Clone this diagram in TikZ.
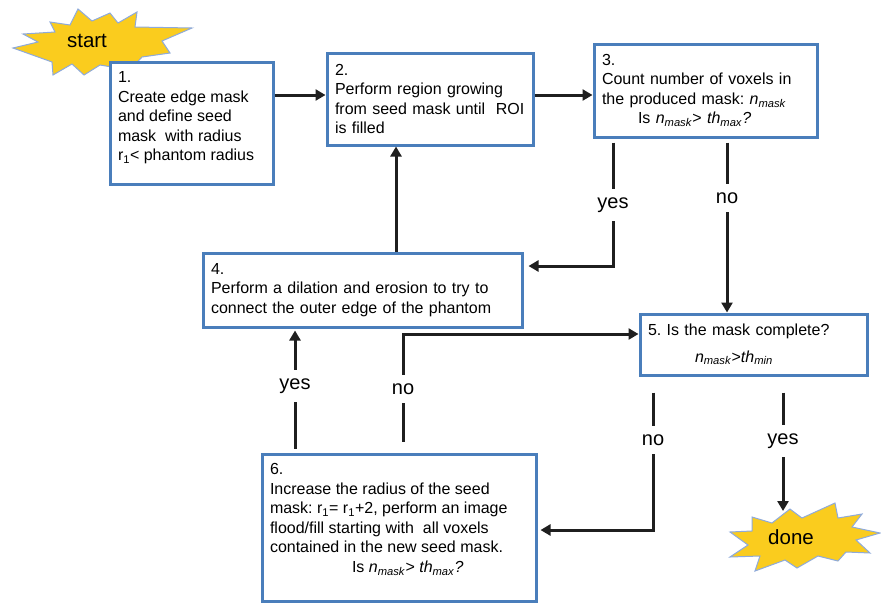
\documentclass[tikz,border=0pt]{standalone}
\usepackage{fontspec}
\setmainfont{Liberation Sans}
\usetikzlibrary{arrows.meta}
\definecolor{boxblue}{HTML}{4A7EBB}
\definecolor{arrowgray}{HTML}{1F1F1F}
\definecolor{staryellow}{HTML}{FACC1E}
\definecolor{starline}{HTML}{8EAADB}
\newcommand{\Nmask}{\textit{n}\textsubscript{\textit{mask}}}
\newcommand{\ThMax}{\textit{th}\textsubscript{\textit{max}}}
\newcommand{\ThMin}{\textit{th}\textsubscript{\textit{min}}}
\frenchspacing
\begin{document}
\begin{tikzpicture}[x=1pt,y=-1pt,
  box/.style={draw=boxblue, line width=3pt, fill=white, rectangle, inner xsep=8pt, inner ysep=4pt, font=\fontsize{16}{19.5}\selectfont\frenchspacing},
  arr/.style={draw=arrowgray, line width=3pt, -{Triangle[length=10pt,width=11pt]}},
  lbl/.style={fill=white, inner xsep=2pt, inner ysep=9pt, font=\fontsize{20}{24}\selectfont},
  burst/.style={fill=staryellow, draw=starline, line width=1pt, line join=miter},
  burstlbl/.style={font=\fontsize{20.5}{24}\selectfont, inner sep=0pt}]
\useasboundingbox[fill=white] (0,0) rectangle (881,603);

% start burst
\draw[burst] (13,48) -- (38,42) -- (23,34) -- (55,32) -- (50,22) -- (70,25) -- (78,9) -- (92,21)
  -- (110,13) -- (118,23) -- (137,12) -- (135,27) -- (192,28) -- (162,41) -- (170,53) -- (142,57)
  -- (130,70) -- (100,65) -- (84,75) -- (72,64) -- (53,75) -- (52,62) -- cycle;
\node[burstlbl] (startlbl) at (87,41) {start};

% done burst
\draw[burst] (752,517) -- (772,523) -- (790,509) -- (802,518) -- (835,503) -- (838,518) -- (862,514)
  -- (852,527) -- (880,533) -- (856,540) -- (870,553) -- (846,552) -- (838,561) -- (818,556)
  -- (797,568) -- (785,560) -- (755,571) -- (760,556) -- (730,557) -- (748,545) -- (730,532)
  -- (752,531) -- cycle;
\node[burstlbl] (donelbl) at (791,537) {done};

% boxes
\node[box, minimum width=163pt, minimum height=122pt] (b1) at (191.5,123)
  {\raisebox{5pt}[\height][\depth]{\parbox{147pt}{\raggedright
  1.\\Create edge mask\\and define seed\\mask\ \ with radius\\r\textsubscript{1}< phantom radius}}};

\node[box, text width=190pt, align=left, minimum height=92pt] (b2) at (430,99)
  {2.\\Perform region growing\\from seed mask until\ \ ROI\\is filled};

\node[box, text width=207pt, align=left, minimum height=93pt] (b3) at (705.5,90.5)
  {3.\\Count number of voxels in\\the produced mask: \Nmask\\\hspace*{36pt}Is \Nmask> \ThMax\textit{?}};

\node[box, text width=303pt, align=left, minimum height=74pt] (b4) at (362.5,290)
  {4.\\Perform a dilation and erosion to try to\\connect the outer edge of the phantom};

\node[box, text width=211pt, align=left, minimum height=61pt] (b5) at (753.5,344.5)
  {5.\ Is the mask complete?\\[7pt]\hspace*{47pt}\Nmask>\ThMin};

\node[box, minimum width=274pt, minimum height=147pt] (b6) at (399,527.5)
  {\raisebox{8pt}[\height][\depth]{\parbox{258pt}{\raggedright
  6.\\Increase the radius of the seed\\mask: r\textsubscript{1}= r\textsubscript{1}+2, perform an image\\flood/fill starting with\ \ all voxels\\contained in the new seed mask.\\\hspace*{82pt}Is \Nmask> \ThMax\textit{?}}}};

% helper coordinates
\coordinate (row1) at (0,95);
\coordinate (c3y) at (613,266);
\coordinate (c3n) at (727,0);
\coordinate (c42) at (396,0);
\coordinate (c6y) at (295,0);
\coordinate (c6n) at (403,334);
\coordinate (c5n) at (653,530);
\coordinate (donetop) at (783,511);

% connectors
\draw[arr] (b1.east |- row1) -- (b2.west |- row1);
\draw[arr] (b2.east |- row1) -- (b3.west |- row1);
\draw[arr, shorten <=4pt, shorten >=5pt] (b3.south -| c3y) |- (b4.east |- c3y);
\draw[arr, shorten <=4pt] (b3.south -| c3n) -- (b5.north -| c3n);
\draw[arr] (b4.north -| c42) -- (b2.south -| c42);
\draw[arr, shorten <=4pt, shorten >=2pt] (b6.north -| c6y) -- (b4.south -| c6y);
\draw[arr, shorten <=11pt] (b6.north -| c6n) |- (b5.west |- c6n);
\draw[arr, shorten <=16pt, shorten >=3pt] (b5.south -| c5n) |- (b6.east |- c5n);
\draw[arr, shorten <=16pt] (b5.south -| donetop) -- (donetop);

% labels
\node[lbl] (l3y) at (613,205) {yes};
\node[lbl] (l3n) at (727,198) {no};
\node[lbl] (l6y) at (295,386) {yes};
\node[lbl] (l6n) at (403,389) {no};
\node[lbl] (l5n) at (653,440) {no};
\node[lbl] (l5y) at (783,441) {yes};
\end{tikzpicture}
\end{document}
